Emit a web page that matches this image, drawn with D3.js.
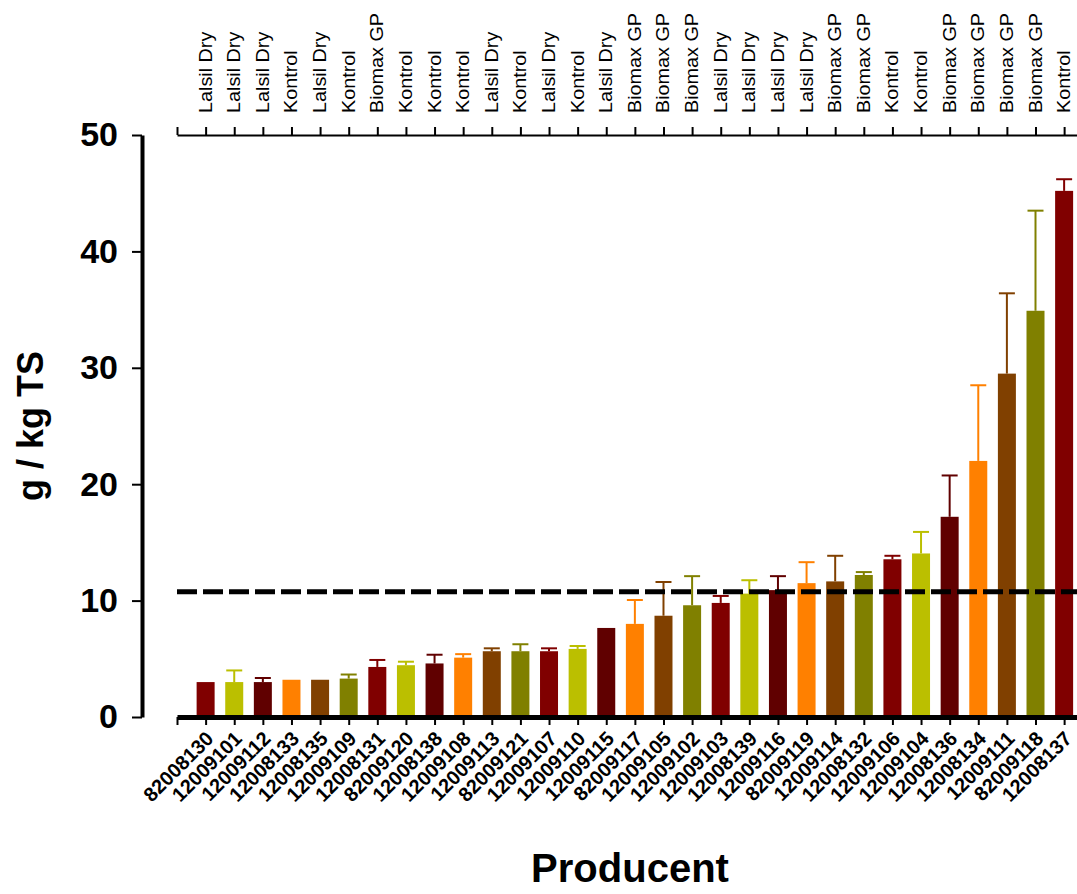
<!DOCTYPE html>
<html>
<head>
<meta charset="utf-8">
<script src="https://cdn.jsdelivr.net/npm/d3@7"></script>
<style>
	body { margin: 0; background: #fff; }
	text { font-family: Arial, 'Liberation Sans', sans-serif; }
</style>
</head>
<body>
<script>
// Producer codes along the bottom axis
const producers = ['82008130', '12009101', '12009112', '12008133', '12008135', '12009109', '12008131', '82009120',
	'12008138', '12009108', '12009113', '82009121', '12009107', '12009110', '12009115', '82009117', '12009105',
	'12009102', '12009103', '12008139', '12009116', '82009119', '12009114', '12008132', '12009106', '12009104',
	'12008136', '12008134', '12009111', '82009118', '12008137']

// Treatment names along the top axis
const treatments = ['Lalsil Dry', 'Lalsil Dry', 'Lalsil Dry', 'Kontrol', 'Lalsil Dry', 'Kontrol', 'Biomax GP',
	'Kontrol', 'Kontrol', 'Kontrol', 'Lalsil Dry', 'Kontrol', 'Lalsil Dry', 'Kontrol', 'Lalsil Dry', 'Biomax GP',
	'Biomax GP', 'Biomax GP', 'Lalsil Dry', 'Lalsil Dry', 'Lalsil Dry', 'Lalsil Dry', 'Biomax GP', 'Biomax GP',
	'Kontrol', 'Kontrol', 'Biomax GP', 'Biomax GP', 'Biomax GP', 'Biomax GP', 'Kontrol']

// Mean value (g / kg TS) and upper error per producer
const values = [3.0, 3.0, 3.0, 3.2, 3.2, 3.3, 4.3, 4.45, 4.6, 5.1, 5.65, 5.65, 5.65, 5.85, 7.65, 8.0, 8.7,
	9.6, 9.8, 10.6, 10.9, 11.5, 11.65, 12.2, 13.55, 14.05, 17.2, 22.0, 29.5, 34.9, 45.2]
const errors = [0, 1.0, 0.35, 0, 0, 0.35, 0.6, 0.3, 0.75, 0.3, 0.25, 0.6, 0.25, 0.25, 0, 2.05, 2.9,
	2.5, 0.6, 1.15, 1.2, 1.8, 2.2, 0.25, 0.3, 1.85, 3.55, 6.5, 6.9, 8.6, 1.0]

const yTicks = [0, 10, 20, 30, 40, 50]
const reference = 10.75
const palette = ['#800000', '#bbbf00', '#600000', '#ff8000', '#804000', '#808000']

const width = 1077
const height = 894

const svg = d3.select('body').append('svg').attr('width', width).attr('height', height)

// index scale: one tick before first bar, plot runs off the right edge
const x = d3.scaleLinear().domain([-1, 30.45]).range([177, 1077])
const y = d3.scaleLinear().domain([0, 50]).range([717, 135])
const barW = 18

// bars
svg.selectAll('rect.bar')
	.data(values)
	.enter()
	.append('rect')
	.attr('class', 'bar')
	.attr('x', (d, i) => x(i) - barW / 2)
	.attr('y', d => y(d))
	.attr('width', barW)
	.attr('height', d => y(0) - y(d))
	.attr('fill', (d, i) => palette[i % palette.length])

// upper error whiskers
const err = svg.selectAll('g.err')
	.data(values.map((v, i) => ({ v: v, e: errors[i], i: i })).filter(d => d.e > 0))
	.enter()
	.append('g')
	.attr('stroke', d => palette[d.i % palette.length])
	.attr('stroke-width', 2)
err.append('line')
	.attr('x1', d => x(d.i)).attr('x2', d => x(d.i))
	.attr('y1', d => y(d.v)).attr('y2', d => y(d.v + d.e))
err.append('line')
	.attr('x1', d => x(d.i) - 8).attr('x2', d => x(d.i) + 8)
	.attr('y1', d => y(d.v + d.e)).attr('y2', d => y(d.v + d.e))

// dashed reference line
svg.append('line')
	.attr('x1', x(-1)).attr('x2', width)
	.attr('y1', y(reference)).attr('y2', y(reference))
	.attr('stroke', '#000')
	.attr('stroke-width', 5)
	.attr('stroke-dasharray', '20,6')

// bottom axis
const xAxis = svg.append('g')
	.attr('transform', `translate(0,${y(0)})`)
	.call(d3.axisBottom(x).tickValues(d3.range(-1, 31)).tickFormat('').tickSize(8).tickSizeOuter(0))
xAxis.select('.domain').attr('stroke-width', 5)
xAxis.selectAll('.tick line').attr('stroke-width', 2)

svg.selectAll('text.prod')
	.data(producers)
	.enter()
	.append('text')
	.attr('class', 'prod')
	.attr('transform', (d, i) => `translate(${x(i) + 9},${y(0) + 23}) rotate(-45)`)
	.attr('text-anchor', 'end')
	.attr('font-size', 20)
	.attr('font-weight', 'bold')
	.text(d => d)

// top axis
const topAxis = svg.append('g')
	.attr('transform', `translate(0,${y(50)})`)
	.call(d3.axisTop(x).tickValues(d3.range(-1, 31)).tickFormat('').tickSize(8).tickSizeOuter(0))
topAxis.select('.domain').attr('stroke-width', 2)
topAxis.selectAll('.tick line').attr('stroke-width', 2)

svg.selectAll('text.treat')
	.data(treatments)
	.enter()
	.append('text')
	.attr('class', 'treat')
	.attr('transform', (d, i) => `translate(${x(i) + 6},${y(50) - 22}) rotate(-90) scale(1.1,1)`)
	.attr('font-size', 18)
	.text(d => d)

// left axis
const yAxis = svg.append('g')
	.attr('transform', 'translate(142,0)')
	.call(d3.axisLeft(y).tickValues(yTicks).tickSize(10).tickSizeOuter(0).tickPadding(14))
yAxis.select('.domain').attr('stroke-width', 4)
yAxis.selectAll('.tick line').attr('stroke-width', 2)
yAxis.selectAll('.tick text')
	.attr('font-size', 34)
	.attr('font-weight', 'bold')
	.attr('font-family', 'Arial, Liberation Sans, sans-serif')
	.attr('fill', '#000')

// axis titles
svg.append('text')
	.attr('transform', `translate(43,${y(25)}) rotate(-90)`)
	.attr('text-anchor', 'middle')
	.attr('font-size', 36)
	.attr('font-weight', 'bold')
	.text('g / kg TS')

svg.append('text')
	.attr('x', 630)
	.attr('y', 882)
	.attr('text-anchor', 'middle')
	.attr('font-size', 40)
	.attr('font-weight', 'bold')
	.text('Producent')
</script>
</body>
</html>
